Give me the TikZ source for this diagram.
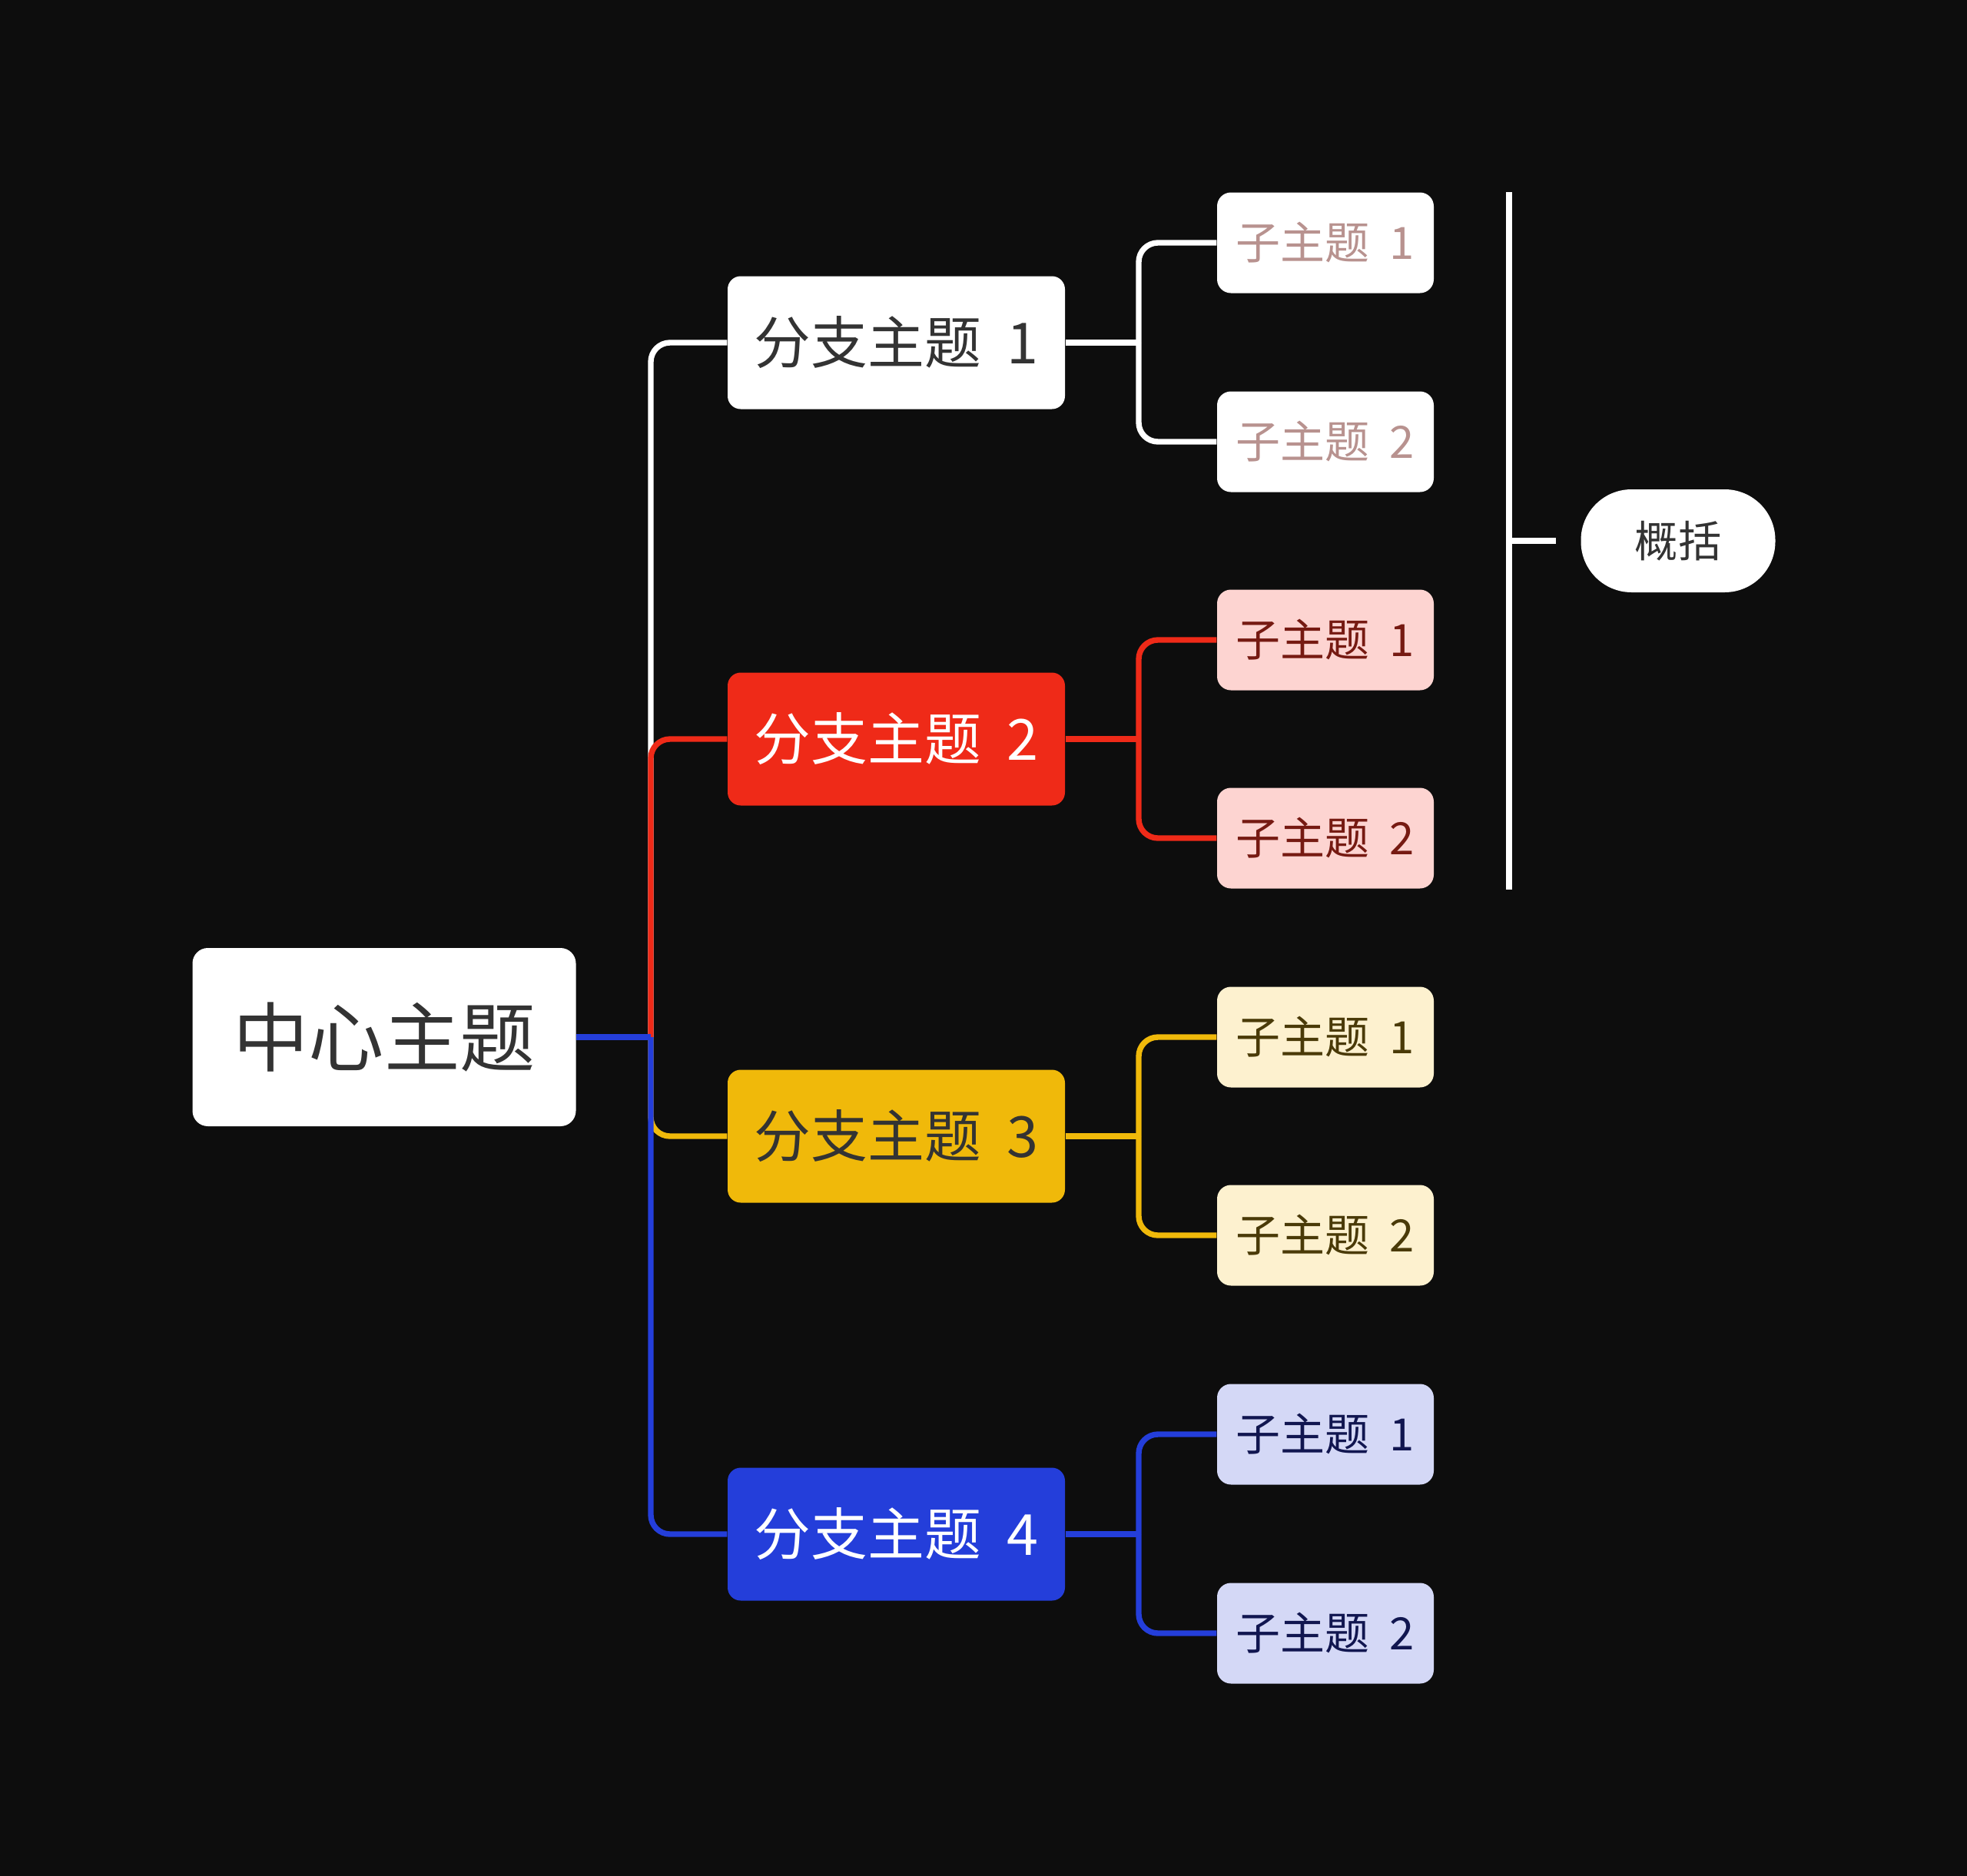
\documentclass[tikz,border=0pt]{standalone}
\usepackage{fontspec}
\setmainfont{Noto Sans CJK SC}
\usetikzlibrary{positioning, calc, backgrounds}

\definecolor{bgblack}{HTML}{0D0D0D}
\definecolor{textgray}{HTML}{333333}
\definecolor{topred}{HTML}{EF2A18}
\definecolor{topyellow}{HTML}{F0B90A}
\definecolor{topblue}{HTML}{243EDA}
\definecolor{subpink}{HTML}{FDD4D1}
\definecolor{subcream}{HTML}{FDF1CF}
\definecolor{sublilac}{HTML}{D4D8F6}
\definecolor{txtrose}{HTML}{B8928F}
\definecolor{txtred}{HTML}{761A12}
\definecolor{txtbrown}{HTML}{4A3A08}
\definecolor{txtnavy}{HTML}{111650}

\newcommand{\gap}{\hspace{0.45em}}

\begin{document}
\begin{tikzpicture}[
        central/.style={rectangle, rounded corners=0.2cm, fill=white, text=textgray, minimum width=4.99cm, minimum height=2.32cm, inner sep=0pt, font=\fontsize{28}{32}\selectfont},
        branch/.style={rectangle, rounded corners=0.17cm, minimum width=4.39cm, minimum height=1.73cm, inner sep=0pt, font=\fontsize{21}{24}\selectfont},
        subtopic/.style={rectangle, rounded corners=0.18cm, minimum width=2.82cm, minimum height=1.31cm, inner sep=0pt, font=\fontsize{16.5}{19}\selectfont},
        summary/.style={rectangle, rounded corners=0.66cm, fill=white, text=textgray, minimum width=2.53cm, minimum height=1.34cm, inner sep=0pt, font=\fontsize{16}{19}\selectfont},
        link/.style={line width=2.1pt, rounded corners=0.25cm}
    ]

    % Page and background
    \useasboundingbox (0,0) rectangle (25.6,-24.42);
    \fill[bgblack] (0,0) rectangle (25.6,-24.42);

    % Central topic
    \node[central] (center) at (5.0,-13.5) {中心主题};

    % Branch topics
    \node[branch, fill=white, text=textgray] (b1) at (11.665,-4.46) {分支主题\gap 1};
    \node[branch, fill=topred, text=white] (b2) at (11.665,-9.62) {分支主题\gap 2};
    \node[branch, fill=topyellow, text=textgray] (b3) at (11.665,-14.79) {分支主题\gap 3};
    \node[branch, fill=topblue, text=white] (b4) at (11.665,-19.97) {分支主题\gap 4};

    % Subtopics
    \node[subtopic, fill=white, text=txtrose] (s11) at (17.25,-3.16) {子主题\gap 1};
    \node[subtopic, fill=white, text=txtrose] (s12) at (17.25,-5.75) {子主题\gap 2};
    \node[subtopic, fill=subpink, text=txtred] (s21) at (17.25,-8.33) {子主题\gap 1};
    \node[subtopic, fill=subpink, text=txtred] (s22) at (17.25,-10.91) {子主题\gap 2};
    \node[subtopic, fill=subcream, text=txtbrown] (s31) at (17.25,-13.50) {子主题\gap 1};
    \node[subtopic, fill=subcream, text=txtbrown] (s32) at (17.25,-16.08) {子主题\gap 2};
    \node[subtopic, fill=sublilac, text=txtnavy] (s41) at (17.25,-18.67) {子主题\gap 1};
    \node[subtopic, fill=sublilac, text=txtnavy] (s42) at (17.25,-21.26) {子主题\gap 2};

    % Summary
    \node[summary] (sum) at (21.84,-7.04) {概括};

    % Junction points
    \coordinate (trunk) at (8.47,-13.5);
    \coordinate (k1) at (14.82,-4.46);
    \coordinate (k2) at (14.82,-9.62);
    \coordinate (k3) at (14.82,-14.79);
    \coordinate (k4) at (14.82,-19.97);
    \coordinate (brtop) at (19.64,-2.50);
    \coordinate (brbot) at (19.64,-11.58);
    \coordinate (brmid) at (19.64,-7.04);
    \coordinate (tick) at (20.25,-7.04);

    % Center to branches
    \draw[link, white] (trunk) |- (b1.west);
    \draw[link, topyellow] (trunk) |- (b3.west);
    \draw[link, topred] (trunk) |- (b2.west);
    \draw[link, topblue] (trunk) |- (b4.west);
    \draw[link, topblue] (center.east) -- (trunk);

    % Branches to subtopics
    \draw[link, white] (b1.east) -- (k1);
    \draw[link, white] (k1) |- (s11.west);
    \draw[link, white] (k1) |- (s12.west);
    \draw[link, topred] (b2.east) -- (k2);
    \draw[link, topred] (k2) |- (s21.west);
    \draw[link, topred] (k2) |- (s22.west);
    \draw[link, topyellow] (b3.east) -- (k3);
    \draw[link, topyellow] (k3) |- (s31.west);
    \draw[link, topyellow] (k3) |- (s32.west);
    \draw[link, topblue] (b4.east) -- (k4);
    \draw[link, topblue] (k4) |- (s41.west);
    \draw[link, topblue] (k4) |- (s42.west);

    % Summary bracket
    \draw[line width=2.1pt, white] (brtop) -- (brbot);
    \draw[line width=2.1pt, white] (brmid) -- (tick);

    \end{tikzpicture}
\end{document}
